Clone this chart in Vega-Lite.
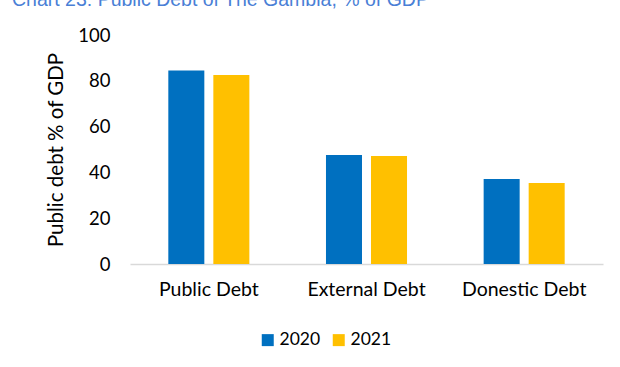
{
  "$schema": "https://vega.github.io/schema/vega-lite/v6.json",
  "width": 473,
  "height": 229,
  "autosize": {"type": "none"},
  "padding": {"left": 130, "top": 35, "right": 17, "bottom": 103},
  "background": "white",
  "title": {
    "text": "Chart 23: Public Debt of The Gambia, % of GDP",
    "anchor": "start",
    "frame": "group",
    "font": "Liberation Sans",
    "fontSize": 19.5,
    "fontWeight": "normal",
    "color": "#4a7fd6",
    "baseline": "alphabetic",
    "dx": -118,
    "dy": 3
  },
  "data": {
    "values": [
      {"category": "Public Debt", "year": "2020", "value": 84.5},
      {"category": "Public Debt", "year": "2021", "value": 82.5},
      {"category": "External Debt", "year": "2020", "value": 47.6},
      {"category": "External Debt", "year": "2021", "value": 47.2},
      {"category": "Donestic Debt", "year": "2020", "value": 37.1},
      {"category": "Donestic Debt", "year": "2021", "value": 35.4}
    ]
  },
  "mark": {"type": "bar"},
  "encoding": {
    "x": {
      "field": "category",
      "type": "nominal",
      "sort": null,
      "scale": {"paddingInner": 0.486, "paddingOuter": 0.243},
      "axis": {
        "title": null,
        "labelAngle": 0,
        "labelFont": "Lato",
        "labelFontSize": 19.5,
        "labelColor": "#000000",
        "labelPadding": 16,
        "ticks": false,
        "tickSize": 0,
        "domainColor": "#d9d9d9",
        "domainWidth": 1.5
      }
    },
    "xOffset": {
      "field": "year",
      "type": "nominal",
      "scale": {"paddingInner": 0.2, "paddingOuter": 0}
    },
    "y": {
      "field": "value",
      "type": "quantitative",
      "scale": {"domain": [0, 100], "nice": false},
      "axis": {
        "title": "Public debt % of GDP",
        "titleFont": "Lato",
        "titleFontSize": 20.5,
        "titleFontWeight": "normal",
        "titleColor": "#000000",
        "titlePadding": 11,
        "values": [0, 20, 40, 60, 80, 100],
        "labelFont": "Lato",
        "labelFontSize": 18.5,
        "labelColor": "#000000",
        "labelPadding": 20,
        "ticks": false,
        "tickSize": 0,
        "domain": false,
        "grid": false
      }
    },
    "color": {
      "field": "year",
      "type": "nominal",
      "scale": {"domain": ["2020", "2021"], "range": ["#0070C0", "#FFC000"]},
      "legend": {
        "title": null,
        "orient": "none",
        "direction": "horizontal",
        "legendX": 129,
        "legendY": 296,
        "symbolType": "square",
        "symbolSize": 144,
        "symbolStrokeWidth": 0,
        "labelFont": "Lato",
        "labelFontSize": 17.5,
        "labelColor": "#000000",
        "labelOffset": 3,
        "columnPadding": 9
      }
    }
  },
  "config": {"view": {"stroke": null}}
}
